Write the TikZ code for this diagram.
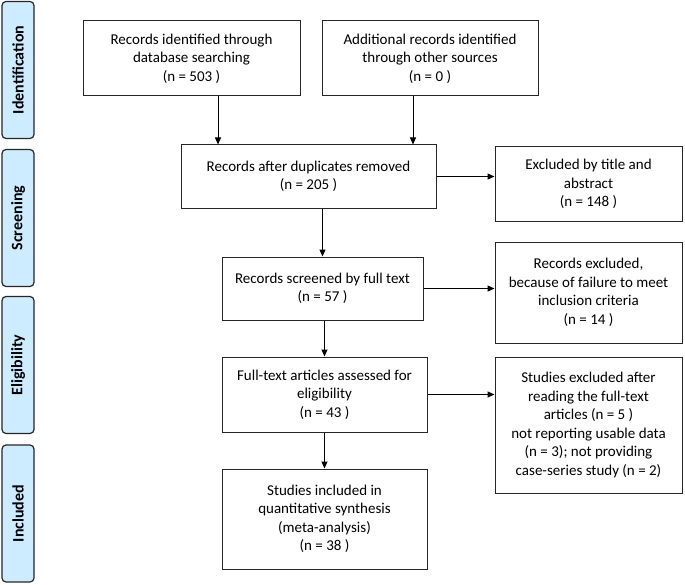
\documentclass[tikz,border=0pt]{standalone}
\usepackage{fontspec}
\setmainfont{Carlito}
\usetikzlibrary{arrows.meta}
\definecolor{bandblue}{RGB}{205,236,255}
\tikzset{
  box/.style={draw=black!85,line width=1bp,align=center,inner sep=0pt,
    font=\fontsize{15bp}{18.5bp}\selectfont},
  band/.style={draw=black!85,line width=1.2bp,fill=bandblue,rounded corners=4bp,
    rotate=90,minimum width=137bp,minimum height=32bp,inner sep=0pt,
    font=\fontsize{16bp}{19bp}\selectfont\bfseries},
  arr/.style={-{Triangle[length=7bp,width=6bp]},line width=1bp}
}
\begin{document}
\begin{tikzpicture}[x=1bp,y=-1bp]
        \useasboundingbox (0,0) rectangle (685,585);
        % phases
        \node[band] (idf) at (18,70) {Identification};
        \node[band] (scn) at (18,218) {Screening};
        \node[band] (elg) at (18,365) {Eligibility};
        \node[band] (inl) at (18,513.5) {Included};
        % flow boxes
        \node[box,minimum width=217bp,minimum height=75bp] (db) at (191.5,58.5)
            {Records identified through\\database searching\\(n = 503 )};
        \node[box,minimum width=216bp,minimum height=75bp] (other) at (430,58.5)
            {Additional records identified\\through other sources\\(n = 0 )};
        \node[box,minimum width=255bp,minimum height=63bp] (dup) at (308.5,176.5)
            {Records after duplicates removed\\(n = 205 )};
        \node[box,minimum width=187bp,minimum height=74bp] (exa) at (588.5,184)
            {Excluded by title and\\abstract\\(n = 148 )};
        \node[box,minimum width=201bp,minimum height=63bp] (scr) at (322.5,288.5)
            {Records screened by full text\\(n = 57 )};
        \node[box,minimum width=187bp,minimum height=101bp] (exb) at (588.5,292.5)
            {Records excluded,\\because of failure to meet\\inclusion criteria\\(n = 14 )};
        \node[box,minimum width=205bp,minimum height=75bp] (ft) at (324.5,394.5)
            {Full-text articles assessed for\\eligibility\\(n = 43 )};
        \node[box,minimum width=187bp,minimum height=136bp] (exc) at (588.5,425)
            {Studies excluded after\\reading the full-text\\articles (n = 5 )\\not reporting usable data\\(n = 3); not providing\\case-series study (n = 2)};
        \node[box,minimum width=205bp,minimum height=100bp] (inc) at (324.5,519)
            {Studies included in\\quantitative synthesis\\(meta-analysis)\\(n = 38 )};
        % connectors
        \coordinate (ca) at (218,0);
        \coordinate (cb) at (413,0);
        \draw[arr] (db.south -| ca) -- (dup.north -| ca);
        \draw[arr] (other.south -| cb) -- (dup.north -| cb);
        \draw[arr] (dup.south -| scr.north) -- (scr.north);
        \draw[arr] (scr.south -| ft.north) -- (ft.north);
        \draw[arr] (ft.south) -- (inc.north);
        \draw[arr] (dup.east) -- (dup.east -| exa.west);
        \draw[arr] (scr.east) -- (scr.east -| exb.west);
        \draw[arr] (ft.east) -- (ft.east -| exc.west);
\end{tikzpicture}
\end{document}
